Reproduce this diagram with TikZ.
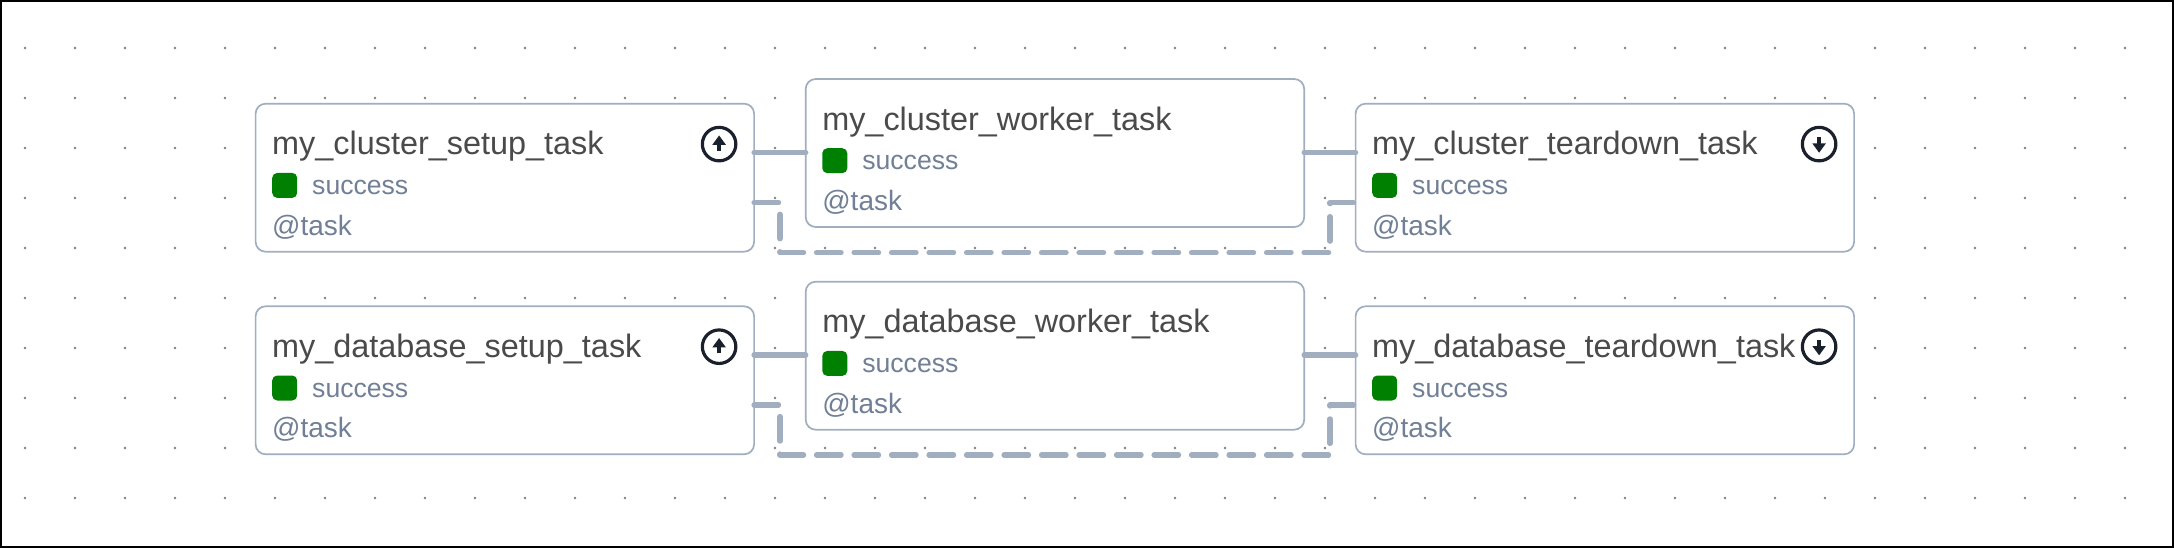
\documentclass[tikz,border=0pt]{standalone}
\usepackage{fontspec}
\setmainfont{Liberation Sans}
\usetikzlibrary{calc,shapes.geometric}
\definecolor{edgecol}{HTML}{A0AEC0}
\definecolor{slatecol}{HTML}{718096}
\definecolor{titlecol}{HTML}{4A4A4A}
\definecolor{iconcol}{HTML}{1A202C}
\definecolor{okgreen}{HTML}{008000}
\newcommand{\taskcard}[4]{%
  \node[card,anchor=north west] (#1) at (#2,#3) {};
  \node[titletext] (#1t) at ($(#1.north west)+(16.4,51.2)$) {#4};
  \node[statusbox,anchor=north west] (#1g) at ($(#1.north west)+(16.4,69)$) {};
  \node[statustext] (#1s) at ($(#1.north west)+(56.4,90.8)$) {success};
  \node[tasktext] (#1k) at ($(#1.north west)+(16.4,131.6)$) {@task};
}
\newcommand{\taskicon}[2]{%
  \node[iconring] (#1i) at ($(#1.north east)+(-35,40.4)$) {};
  \draw[iconarrow] ($(#1i.center)+(0,-#2*6.7)$) -- ($(#1i.center)+(0,#2*1)$);
  \fill[iconcol] ($(#1i.center)+(0,#2*8.6)$) -- ($(#1i.center)+(-6.8,-#2*0.7)$) -- ($(#1i.center)+(6.8,-#2*0.7)$) -- cycle;
}
\tikzset{
  card/.style={draw=edgecol,line width=1.7pt,rounded corners=10pt,fill=white,minimum width=498.5pt,minimum height=148pt,inner sep=0pt,outer sep=0pt},
  titletext/.style={anchor=base west,inner sep=0pt,text=titlecol,font=\fontsize{32.4pt}{36pt}\selectfont},
  statustext/.style={anchor=base west,inner sep=0pt,text=slatecol,font=\fontsize{26.6pt}{30pt}\selectfont},
  tasktext/.style={anchor=base west,inner sep=0pt,text=slatecol,font=\fontsize{28pt}{32pt}\selectfont},
  statusbox/.style={fill=okgreen,rounded corners=5pt,minimum width=25pt,minimum height=25pt,inner sep=0pt},
  iconring/.style={draw=iconcol,line width=3.2pt,circle,minimum size=33.5pt,inner sep=0pt},
  iconarrow/.style={draw=iconcol,line width=4pt},
  solidedge/.style={draw=edgecol,line width=5.4pt,line cap=round},
  dashedge/.style={draw=edgecol,line width=5.4pt,line cap=round,line join=round,dash pattern=on 24.4pt off 13.1pt},
}
\begin{document}
\begin{tikzpicture}[x=1pt,y=-1pt]
\useasboundingbox (0,0) rectangle (2174,548);
\fill[white] (0,0) rectangle (2174,548);
\draw[black,line width=2pt] (1,1) rectangle (2173,547);
\foreach \i in {0,...,42}{\foreach \j in {0,...,9}{
  \fill[black!50] (25+50*\i,48+50*\j) circle (1.3pt);
}}
\taskcard{a}{255.6}{103.7}{my\_cluster\_setup\_task}
\taskcard{b}{805.7}{79}{my\_cluster\_worker\_task}
\taskcard{c}{1355.6}{103.7}{my\_cluster\_teardown\_task}
\taskcard{d}{255.6}{306.3}{my\_database\_setup\_task}
\taskcard{e}{805.7}{281.7}{my\_database\_worker\_task}
\taskcard{f}{1355.6}{306.3}{my\_database\_teardown\_task}
\taskicon{a}{-1}
\taskicon{c}{1}
\taskicon{d}{-1}
\taskicon{f}{1}
\coordinate (dla) at (780,252.7);
\coordinate (dra) at (1330,252.7);
\coordinate (dld) at (780,455);
\coordinate (drd) at (1330,455);
\draw[solidedge] ([yshift=-49pt]a.north east) -- ([yshift=-73.7pt]b.north west);
\draw[solidedge] ([yshift=-73.7pt]b.north east) -- ([yshift=-49pt]c.north west);
\draw[solidedge] ([yshift=-48.7pt]d.north east) -- ([yshift=-73.3pt]e.north west);
\draw[solidedge] ([yshift=-73.3pt]e.north east) -- ([yshift=-48.7pt]f.north west);
\draw[dashedge] ([yshift=-99pt]a.north east) -| (dla) -- (dra) |- ([yshift=-99pt]c.north west);
\draw[dashedge] ([yshift=-98.7pt]d.north east) -| (dld) -- (drd) |- ([yshift=-98.7pt]f.north west);
\end{tikzpicture}
\end{document}
